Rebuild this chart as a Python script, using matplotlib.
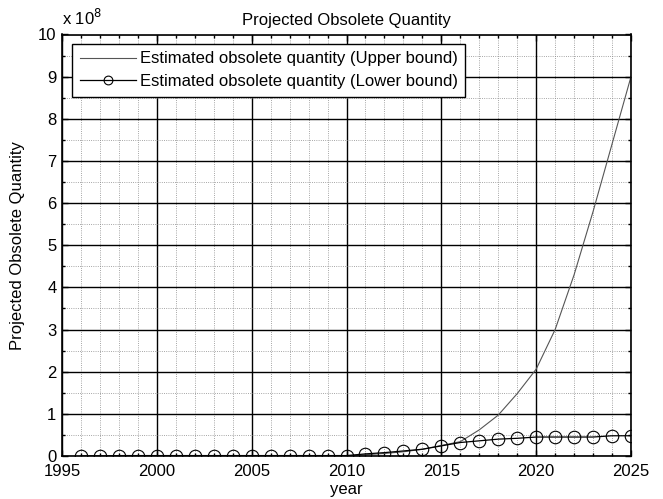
import numpy as np
import matplotlib.pyplot as plt
from matplotlib.ticker import MultipleLocator

plt.rcParams['font.family'] = ['Liberation Sans', 'DejaVu Sans']

years = np.arange(1996, 2026)
# values in units of 1e8
upper = [0.0, 0.0, 0.0, 0.0, 0.0, 0.0, 0.0, 0.0, 0.0, 0.0,
         0.0, 0.0, 0.0, 0.0, 0.0, 0.03, 0.06, 0.10, 0.16, 0.25,
         0.34, 0.62, 0.97, 1.48, 2.06, 3.0, 4.3, 5.8, 7.4, 9.0]
lower = [0.0, 0.0, 0.01, 0.01, 0.01, 0.01, 0.01, 0.01, 0.01, 0.01,
         0.01, 0.01, 0.01, 0.01, 0.01, 0.05, 0.08, 0.12, 0.16, 0.24,
         0.32, 0.36, 0.40, 0.42, 0.45, 0.45, 0.45, 0.45, 0.48, 0.48]

fig = plt.figure(figsize=(6.63, 4.99), dpi=100)
ax = fig.add_axes([62/663, 1 - 456/499, (631-62)/663, (456-34.5)/499])

ax.plot(years, upper, color='#555555', lw=0.8,
        label='Estimated obsolete quantity (Upper bound)')
ax.plot(years, lower, color='black', lw=0.9, marker='o', ms=9,
        mfc='none', mec='black', mew=0.8,
        label='Estimated obsolete quantity (Lower bound)')

ax.set_xlim(1995, 2025)
ax.set_ylim(0, 10)
ax.xaxis.set_major_locator(MultipleLocator(5))
ax.xaxis.set_minor_locator(MultipleLocator(1))
ax.yaxis.set_major_locator(MultipleLocator(1))
ax.yaxis.set_minor_locator(MultipleLocator(0.5))
ax.grid(which='major', color='black', lw=1.0, ls='-')
ax.grid(which='minor', color='#888888', lw=0.6, ls=':')
ax.set_axisbelow(True)
ax.tick_params(which='both', direction='in', top=True, right=True,
               labelsize=12, width=1.0, color='black', pad=4)
ax.tick_params(axis='x', which='both', pad=6)
ax.tick_params(which='major', length=4)
ax.tick_params(which='minor', length=2)
for s in ax.spines.values():
    s.set_linewidth(1.2)

ax.set_title('Projected Obsolete Quantity', fontsize=12, pad=7)
ax.set_xlabel('year', fontsize=12, labelpad=2)
ax.set_ylabel('Projected Obsolete Quantity', fontsize=12, labelpad=9)
ax.text(0.0, 1.015, r'x 10$^{8}$', transform=ax.transAxes, fontsize=12,
        ha='left', va='bottom')

leg = ax.legend(loc='upper left', bbox_to_anchor=(10/569, 1 - 9.5/421.5),
                fontsize=12, frameon=True, fancybox=False, edgecolor='black',
                framealpha=1, borderpad=0.45, labelspacing=0.45,
                handlelength=3.4, handletextpad=0.2, borderaxespad=0,
                markerscale=0.7)
leg.get_frame().set_linewidth(1.0)

fig.savefig('out.png', dpi=100)
